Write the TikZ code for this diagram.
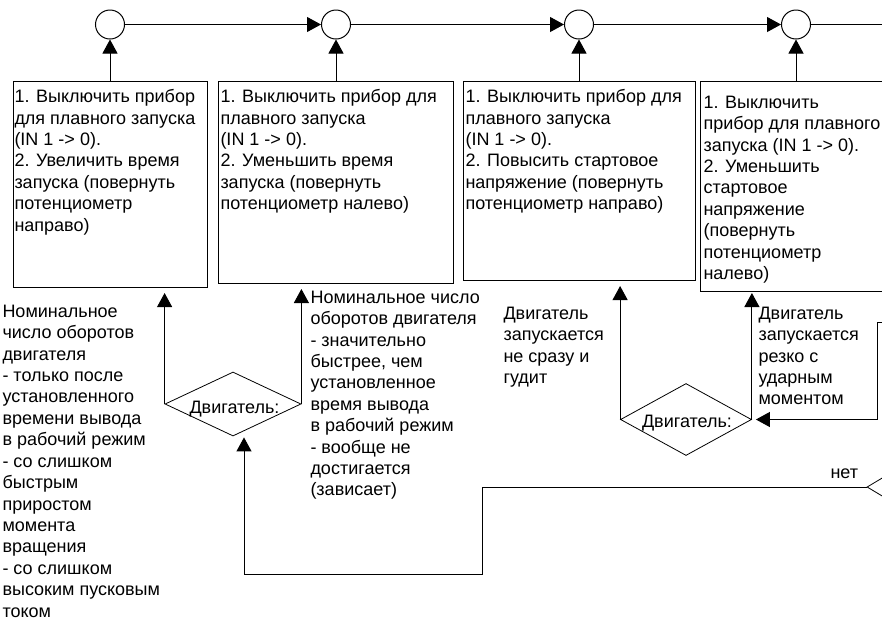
\documentclass[tikz,border=0pt]{standalone}
\usepackage{fontspec}
\setmainfont{Liberation Sans}
\usetikzlibrary{arrows.meta,shapes.geometric}
\begin{document}
\begin{tikzpicture}[x=1pt,y=-1pt,line width=1pt,
  arr/.style={-{Triangle[length=14pt,width=15pt]}},
  txt/.style={font=\fontsize{18}{21.4}\selectfont,align=left,inner sep=0pt,anchor=north west},
  lbl/.style={font=\fontsize{18}{21.4}\selectfont,inner sep=0pt,anchor=base},
  box/.style={draw,rectangle,inner sep=0pt,anchor=north west},
  ring/.style={draw,circle,minimum size=29pt,inner sep=0pt},
  dia/.style={draw,diamond,inner sep=0pt,line width=0.8pt}]
\useasboundingbox (0,0) rectangle (882,625);
\clip (0,0) rectangle (882,625);
% circles
\node[ring] (c1) at (110,24.5) {};
\node[ring] (c2) at (336,24.5) {};
\node[ring] (c3) at (579,24.5) {};
\node[ring] (c4) at (796,24.5) {};
\coordinate (out) at (890,24.5);
% boxes
\node[box,minimum width=194pt,minimum height=206pt] (b1) at (13,81) {};
\node[box,minimum width=235pt,minimum height=202pt] (b2) at (218,81) {};
\node[box,minimum width=232pt,minimum height=199pt] (b3) at (463,81) {};
\node[box,minimum width=200pt,minimum height=210pt] (b4) at (700,81) {};
% box texts
\node[txt] (t1) at (14,89) {1. Выключить прибор\\для плавного запуска\\(IN 1 -> 0).\\2. Увеличить время\\запуска (повернуть\\потенциометр\\направо)};
\node[txt] (t2) at (220,89) {1. Выключить прибор для\\плавного запуска\\(IN 1 -> 0).\\2. Уменьшить время\\запуска (повернуть\\потенциометр налево)};
\node[txt] (t3) at (465,89) {1. Выключить прибор для\\плавного запуска\\(IN 1 -> 0).\\2. Повысить стартовое\\напряжение (повернуть\\потенциометр направо)};
\node[txt] (t4) at (703,95.5) {1. Выключить\\прибор для плавного\\запуска (IN 1 -> 0).\\2. Уменьшить\\стартовое\\напряжение\\(повернуть\\потенциометр\\налево)};
% diamonds
\node[dia,minimum width=136pt,minimum height=64pt] (d1) at (233,404) {};
\node[dia,minimum width=131pt,minimum height=72pt] (d2) at (686,419.5) {};
\node[dia,minimum width=120pt,minimum height=72pt] (d3) at (927,487) {};
\node[lbl] (d1t) at ([xshift=1.5pt,yshift=-9pt]d1.center) {Двигатель:};
\node[lbl] (d2t) at ([xshift=1pt,yshift=-8pt]d2.center) {Двигатель:};
% free texts
\node[txt] (l1) at (2,304.5) {Номинальное\\число оборотов\\двигателя\\- только после\\установленного\\времени вывода\\в рабочий режим\\- со слишком\\быстрым\\приростом\\момента\\вращения\\- со слишком\\высоким пусковым\\током};
\node[txt] (m1) at (310,290.5) {Номинальное число\\оборотов двигателя\\- значительно\\быстрее, чем\\установленное\\время вывода\\в рабочий режим\\- вообще не\\достигается\\(зависает)};
\node[txt] (n1) at (503,306.5) {Двигатель\\запускается\\не сразу и\\гудит};
\node[txt] (n2) at (758,306.5) {Двигатель\\запускается\\резко с\\ударным\\моментом};
\node[lbl,anchor=base west] (no) at (830,478) {нет};
% connectors along the top
\draw[arr] (c1) -- (c2);
\draw[arr] (c2) -- (c3);
\draw[arr] (c3) -- (c4);
\draw (c4) -- (out);
\draw[arr] (c1 |- b1.north) -- (c1);
\draw[arr] (c2 |- b2.north) -- (c2);
\draw[arr] (c3 |- b3.north) -- (c3);
\draw[arr] (c4 |- b4.north) -- (c4);
% connectors from diamonds
\draw[arr,shorten >=5pt] (d1.west) -- (d1.west |- b1.south);
\draw[arr,shorten >=5pt] (d1.east) -- (d1.east |- b2.south);
\draw[arr,shorten >=5pt] (d2.west) -- (d2.west |- b3.south);
\draw[arr,shorten >=1pt] (d2.east) -- (d2.east |- b4.south);
\coordinate (in2) at (890,322);
\draw[arr,shorten >=4pt] (in2) -- ++(-13,0) |- (d2.east);
\draw[arr] (d3.west) -- ++(-384,0) -- ++(0,87) -| ([xshift=11pt,yshift=-1pt]d1.south);
\end{tikzpicture}
\end{document}
